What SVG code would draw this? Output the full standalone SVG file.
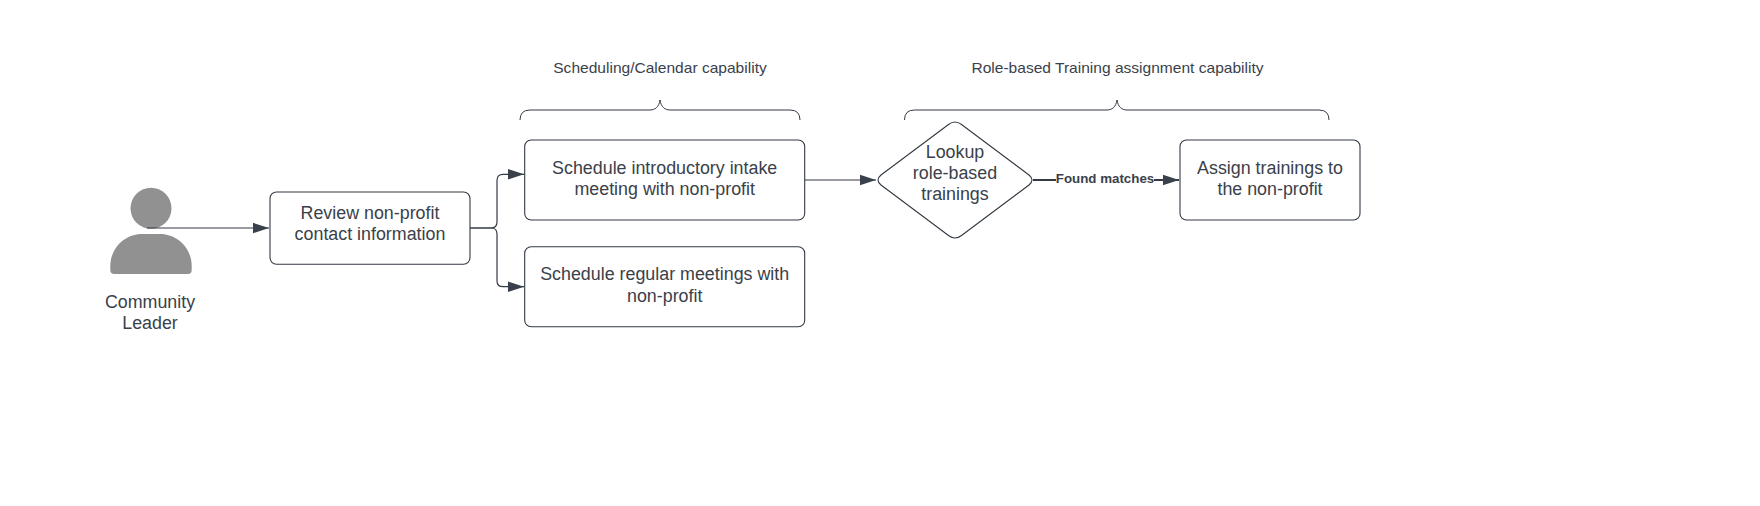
<svg xmlns="http://www.w3.org/2000/svg" width="1760" height="506" viewBox="0 0 1760 506">
<style>
text{font-family:"Liberation Sans",Arial,sans-serif;fill:#3a414a;text-anchor:middle}
.t{font-size:17.85px}
.c{font-size:15.55px}
.b{font-size:13.33px;font-weight:700}
.s{fill:#fff;stroke:#333a44;stroke-width:1.100}
.l{fill:none;stroke:#333a44;stroke-width:1.200}
.h{fill:none;stroke:#333a44;stroke-width:1.800}
.br{fill:none;stroke:#333a44;stroke-width:1}
</style>
<defs><marker id="a" markerUnits="userSpaceOnUse" markerWidth="18" markerHeight="12" refX="16" refY="6" orient="auto"><path d="M0 .8L16 6L0 11.2Z" fill="#3a414a"/></marker></defs>
<rect width="1760" height="506" fill="#fff"/>
<g id="leader">
<circle cx="151" cy="208.300" r="20.500" fill="#919191"/>
<path d="M110.300 270V266C110.300 249 124 234 142 234H160C178 234 191.700 249 191.700 266V270Q191.700 274 187.700 274H114.300Q110.300 274 110.300 270Z" fill="#919191"/>
<text class="t" x="150" y="307.500">Community</text>
<text class="t" x="150" y="328.800">Leader</text>
</g>
<g id="review">
<rect class="s" x="270" y="192" width="200" height="72.300" rx="6.500"/>
<text class="t" x="370" y="218.500">Review non-profit</text>
<text class="t" x="370" y="239.800">contact information</text>
</g>
<g id="intake">
<rect class="s" x="524.700" y="140" width="280" height="80" rx="6.500"/>
<text class="t" x="664.700" y="173.500">Schedule introductory intake</text>
<text class="t" x="664.700" y="194.800">meeting with non-profit</text>
</g>
<g id="regular">
<rect class="s" x="524.700" y="246.700" width="280" height="80" rx="6.500"/>
<text class="t" x="664.700" y="280.200">Schedule regular meetings with</text>
<text class="t" x="664.700" y="301.500">non-profit</text>
</g>
<g id="lookup">
<path class="s" d="M948.500 124.500Q955 119.500 961.500 124.500L1029 175Q1035 180 1029 185L961.500 235.500Q955 240.500 948.500 235.500L881 185Q875 180 881 175Z"/>
<text class="t" x="955" y="157.500">Lookup</text>
<text class="t" x="955" y="178.800">role-based</text>
<text class="t" x="955" y="200.100">trainings</text>
</g>
<g id="assign">
<rect class="s" x="1180" y="140" width="180" height="80" rx="6.500"/>
<text class="t" x="1270" y="173.500">Assign trainings to</text>
<text class="t" x="1270" y="194.800">the non-profit</text>
</g>
<g id="connectors">
<path class="l" marker-end="url(#a)" d="M147 228H269"/>
<path class="l" marker-end="url(#a)" d="M470 228H491Q497 228 497 222V180.300Q497 174.300 503 174.300H524"/>
<path class="l" marker-end="url(#a)" d="M470 228H491Q497 228 497 234V280.700Q497 286.700 503 286.700H524"/>
<path class="l" marker-end="url(#a)" d="M805 180H876"/>
<path class="h" marker-end="url(#a)" d="M1033 180H1179"/>
<rect x="1056" y="168" width="98" height="18" fill="#fff"/>
<text class="b" x="1105" y="182.700">Found matches</text>
</g>
<g id="brace-scheduling">
<path class="br" d="M520 120Q520 110 530 110H650C655 110 659 107 660 100C661 107 665 110 670 110H790Q800 110 800 120"/>
<text class="c" x="660" y="73">Scheduling/Calendar capability</text>
</g>
<g id="brace-training">
<path class="br" d="M904.500 120Q904.500 110 914.500 110H1107C1112 110 1116 107 1117 100C1118 107 1122 110 1127 110H1319Q1329 110 1329 120"/>
<text class="c" x="1117.500" y="73">Role-based Training assignment capability</text>
</g>
</svg>
